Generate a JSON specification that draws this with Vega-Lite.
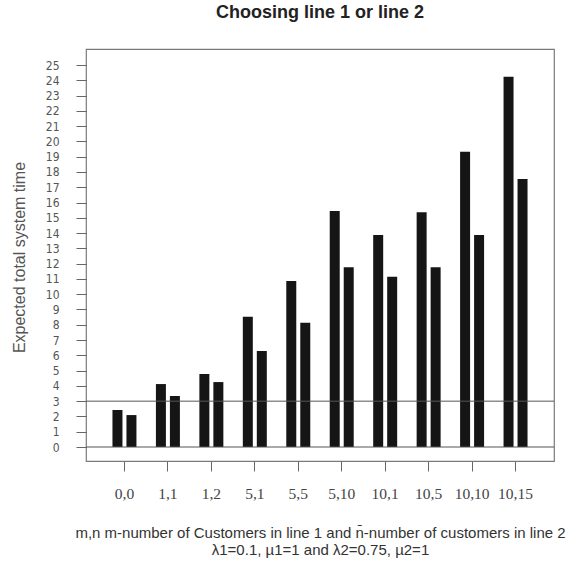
{
  "$schema": "https://vega.github.io/schema/vega-lite/v6.json",
  "width": 468,
  "height": 412,
  "autosize": {"type": "none"},
  "padding": {"left": 86, "top": 49, "right": 26, "bottom": 101},
  "background": "white",
  "title": {
    "text": "Choosing line 1 or line 2",
    "font": "Liberation Sans",
    "fontSize": 18,
    "fontWeight": "bold",
    "color": "#222222",
    "anchor": "middle",
    "frame": "group",
    "offset": 9,
    "baseline": "bottom"
  },
  "config": {"view": {"stroke": "#7a7a7a", "strokeWidth": 1.2}},
  "layer": [
    {
      "data": {
        "values": [
          {"group": "0,0", "line": "line1", "value": 2.42},
          {"group": "0,0", "line": "line2", "value": 2.09},
          {"group": "1,1", "line": "line1", "value": 4.12},
          {"group": "1,1", "line": "line2", "value": 3.34},
          {"group": "1,2", "line": "line1", "value": 4.78},
          {"group": "1,2", "line": "line2", "value": 4.25},
          {"group": "5,1", "line": "line1", "value": 8.53},
          {"group": "5,1", "line": "line2", "value": 6.28},
          {"group": "5,5", "line": "line1", "value": 10.86},
          {"group": "5,5", "line": "line2", "value": 8.14},
          {"group": "5,10", "line": "line1", "value": 15.45},
          {"group": "5,10", "line": "line2", "value": 11.76},
          {"group": "10,1", "line": "line1", "value": 13.87},
          {"group": "10,1", "line": "line2", "value": 11.15},
          {"group": "10,5", "line": "line1", "value": 15.36},
          {"group": "10,5", "line": "line2", "value": 11.76},
          {"group": "10,10", "line": "line1", "value": 19.33},
          {"group": "10,10", "line": "line2", "value": 13.87},
          {"group": "10,15", "line": "line1", "value": 24.24},
          {"group": "10,15", "line": "line2", "value": 17.54}
        ]
      },
      "mark": {"type": "bar", "color": "#151515"},
      "encoding": {
        "x": {
          "field": "group",
          "type": "nominal",
          "sort": ["0,0", "1,1", "1,2", "5,1", "5,5", "5,10", "10,1", "10,5", "10,10", "10,15"],
          "scale": {"paddingInner": 0.448, "paddingOuter": 0.609},
          "axis": {
            "title": ["m,n m-number of Customers in line 1 and n\u0304-number of customers in line 2", "\u03bb1=0.1, \u00b51=1 and \u03bb2=0.75, \u00b52=1"],
            "titleFont": "Liberation Sans",
            "titleFontSize": 15,
            "titleFontWeight": "normal",
            "titleColor": "#333333",
            "titleY": 64,
            "titleBaseline": "top",
            "titleLineHeight": 17,
            "labelFont": "Liberation Serif",
            "labelFontSize": 15.5,
            "labelColor": "#444444",
            "labelAngle": 0,
            "labelPadding": 15,
            "tickSize": 10,
            "tickColor": "#666666",
            "domain": false,
            "grid": false
          }
        },
        "xOffset": {
          "field": "line",
          "type": "nominal",
          "scale": {"paddingInner": 0.286, "paddingOuter": 0}
        },
        "y": {
          "field": "value",
          "type": "quantitative",
          "scale": {"domain": [-0.916, 26.05], "nice": false, "zero": false},
          "axis": {
            "values": [0, 1, 2, 3, 4, 5, 6, 7, 8, 9, 10, 11, 12, 13, 14, 15, 16, 17, 18, 19, 20, 21, 22, 23, 24, 25],
            "labelFont": "DejaVu Sans Condensed, Liberation Sans",
            "labelFontSize": 12,
            "labelColor": "#555555",
            "labelPadding": 17,
            "labelOverlap": false,
            "tickSize": 10,
            "tickColor": "#666666",
            "domain": false,
            "grid": false,
            "title": "Expected total system time",
            "titleFont": "Liberation Sans",
            "titleFontSize": 16,
            "titleFontWeight": "normal",
            "titleColor": "#555555",
            "titleX": -67,
            "titleY": 208,
            "titleAngle": -90,
            "titleAlign": "center",
            "titleBaseline": "middle"
          }
        },
        "y2": {"datum": 0}
      }
    },
    {
      "data": {"values": [{"ref": 0}, {"ref": 3}]},
      "mark": {"type": "rule", "color": "#555555", "strokeWidth": 1},
      "encoding": {
        "y": {
          "field": "ref",
          "type": "quantitative",
          "axis": {
            "values": [0, 1, 2, 3, 4, 5, 6, 7, 8, 9, 10, 11, 12, 13, 14, 15, 16, 17, 18, 19, 20, 21, 22, 23, 24, 25],
            "labelFont": "DejaVu Sans Condensed, Liberation Sans",
            "labelFontSize": 12,
            "labelColor": "#555555",
            "labelPadding": 17,
            "labelOverlap": false,
            "tickSize": 10,
            "tickColor": "#666666",
            "domain": false,
            "grid": false,
            "title": "Expected total system time",
            "titleFont": "Liberation Sans",
            "titleFontSize": 16,
            "titleFontWeight": "normal",
            "titleColor": "#555555",
            "titleX": -67,
            "titleY": 208,
            "titleAngle": -90,
            "titleAlign": "center",
            "titleBaseline": "middle"
          }
        }
      }
    }
  ]
}
